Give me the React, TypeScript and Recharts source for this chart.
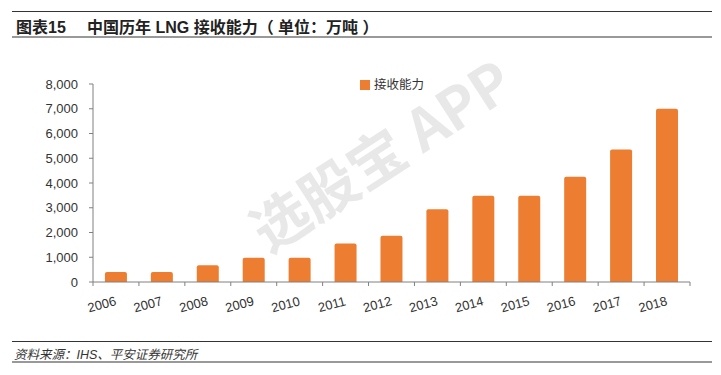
import { BarChart, Bar, XAxis, YAxis, Legend } from 'recharts'

const YEARS = ['2006', '2007', '2008', '2009', '2010', '2011', '2012', '2013', '2014', '2015', '2016', '2017', '2018']
const CAPACITY = [400, 400, 680, 980, 980, 1560, 1870, 2940, 3480, 3480, 4250, 5350, 7000]
const Y_TICKS = [0, 1000, 2000, 3000, 4000, 5000, 6000, 7000, 8000]

const FONT = '"Liberation Sans", Arial, "Noto Sans CJK SC", sans-serif'
const BAR_COLOR = '#ED7D31'

const data = YEARS.map((year, i) => ({ year, value: CAPACITY[i] }))

function YearTick(props: any) {
  const { x, y, payload, index, width } = props
  const half = width / YEARS.length / 2
  return (
    <g>
      <line x1={x - half} y1={y - 8} x2={x - half} y2={y - 4} stroke="#808080" />
      {index === YEARS.length - 1 && (
        <line x1={x + half} y1={y - 8} x2={x + half} y2={y - 4} stroke="#808080" />
      )}
      <text
        x={x + 1}
        y={y + 15}
        transform={`rotate(-15, ${x + 1}, ${y + 15})`}
        textAnchor="end"
        fontSize={13}
        fill="#333"
        fontFamily={FONT}
      >
        {payload.value}
      </text>
    </g>
  )
}

export default function App() {
  return (
    <div style={{ position: 'relative', width: 721, height: 375, background: '#fff', fontFamily: FONT }}>
      <style>{'body{margin:0}'}</style>

      {/* header */}
      <div style={{ position: 'absolute', left: 12, top: 11, width: 700, borderTop: '1px solid #333' }} />
      <div style={{ position: 'absolute', left: 16, top: 14, fontSize: 16, fontWeight: 'bold', color: '#222', whiteSpace: 'pre' }}>
        图表15
      </div>
      <div style={{ position: 'absolute', left: 87, top: 14, fontSize: 16, fontWeight: 'bold', color: '#222', whiteSpace: 'pre' }}>
        中国历年 LNG 接收能力（ 单位：万吨 ）
      </div>
      <div style={{ position: 'absolute', left: 12, top: 36, width: 700, borderTop: '2px solid #999' }} />

      {/* watermark */}
      <div
        style={{
          position: 'absolute',
          left: 255,
          top: 192,
          fontSize: 57,
          fontWeight: 'bold',
          color: '#e8e8e8',
          transform: 'rotate(-33deg)',
          transformOrigin: 'left center',
          whiteSpace: 'pre',
          fontFamily: '"Noto Sans CJK SC", sans-serif',
        }}
      >
        选股宝 APP
      </div>

      <div style={{ position: 'absolute', left: 0, top: 0 }}>
        <BarChart
          width={721}
          height={375}
          data={data}
          margin={{ top: 65, right: 31, bottom: 53, left: 0 }}
          barCategoryGap="26%"
        >
          <XAxis
            dataKey="year"
            height={40}
            axisLine={{ stroke: '#808080' }}
            tickLine={false}
            tick={<YearTick />}
            interval={0}
          />
          <YAxis
            width={93}
            domain={[0, 8000]}
            ticks={Y_TICKS}
            tickFormatter={(v: number) => v.toLocaleString('en-US')}
            axisLine={{ stroke: '#808080' }}
            tickLine={{ stroke: '#808080' }}
            tickSize={4}
            tickMargin={11}
            tick={{ fontSize: 13, fill: '#333', fontFamily: FONT }}
          />
          <Legend
            verticalAlign="top"
            align="left"
            iconType="square"
            iconSize={10}
            wrapperStyle={{ position: 'absolute', left: 360, top: 74, width: 140 }}
            formatter={(value) => (
              <span style={{ color: '#333', fontSize: 12.5, fontFamily: FONT }}>{value}</span>
            )}
          />
          <Bar dataKey="value" name="接收能力" fill={BAR_COLOR} radius={[2, 2, 0, 0]} isAnimationActive={false} />
        </BarChart>
      </div>

      {/* footer */}
      <div style={{ position: 'absolute', left: 12, top: 341, width: 700, borderTop: '1px solid #333' }} />
      <div
        style={{
          position: 'absolute',
          left: 14,
          top: 344,
          fontSize: 12.5,
          fontStyle: 'italic',
          color: '#333',
          whiteSpace: 'pre',
        }}
      >
        资料来源：IHS、平安证券研究所
      </div>
      <div style={{ position: 'absolute', left: 12, top: 361, width: 700, borderTop: '2px solid #999' }} />
    </div>
  )
}
